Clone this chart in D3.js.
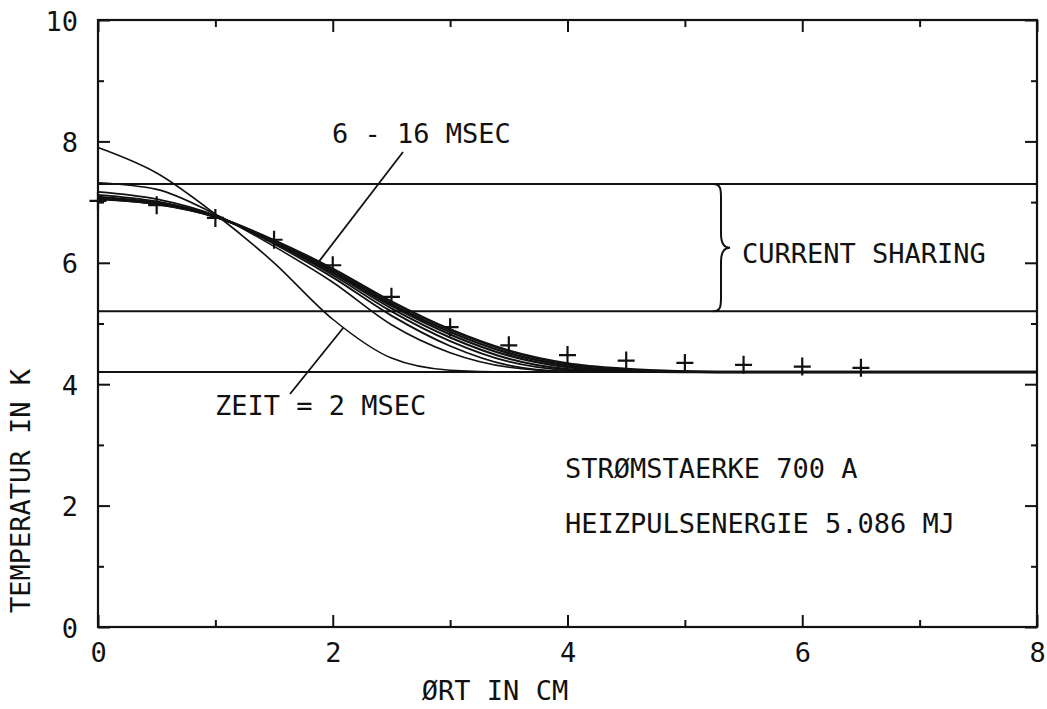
<!DOCTYPE html>
<html>
<head>
<meta charset="utf-8">
<script src="https://cdn.jsdelivr.net/npm/d3@7"></script>
<style>
  html, body { margin: 0; padding: 0; background: #fff; }
  svg { display: block; }
  text { font-family: "DejaVu Sans Mono", monospace; font-size: 27px; fill: #111; }
</style>
</head>
<body>
<svg id="chart" width="1047" height="709"></svg>
<script>
// Positions along the conductor (cm) at which the profiles are sampled
const xGrid = [0, 0.5, 1.0, 1.5, 2.0, 2.5, 3.0, 3.5, 4.0, 4.5, 5.0, 5.5, 6.0, 6.5, 7.0, 7.5, 8.0];

// Computed temperature profiles (K), one per time step (ms)
const profile2ms  = [7.90, 7.48, 6.80, 6.00, 5.07, 4.43, 4.23, 4.20, 4.20, 4.20, 4.20, 4.20, 4.20, 4.20, 4.20, 4.20, 4.20];
const profile4ms  = [7.32, 7.21, 6.80, 6.27, 5.68, 4.98, 4.52, 4.28, 4.21, 4.20, 4.20, 4.20, 4.20, 4.20, 4.20, 4.20, 4.20];
const profile6ms  = [7.17, 7.05, 6.78, 6.31, 5.76, 5.13, 4.63, 4.31, 4.21, 4.20, 4.20, 4.20, 4.20, 4.20, 4.20, 4.20, 4.20];
const profile8ms  = [7.12, 7.01, 6.77, 6.33, 5.80, 5.20, 4.71, 4.37, 4.23, 4.20, 4.20, 4.20, 4.20, 4.20, 4.20, 4.20, 4.20];
const profile10ms = [7.09, 6.99, 6.76, 6.34, 5.83, 5.25, 4.77, 4.42, 4.25, 4.21, 4.20, 4.20, 4.20, 4.20, 4.20, 4.20, 4.20];
const profile12ms = [7.07, 6.98, 6.76, 6.35, 5.85, 5.29, 4.82, 4.47, 4.28, 4.22, 4.20, 4.20, 4.20, 4.20, 4.20, 4.20, 4.20];
const profile14ms = [7.06, 6.97, 6.76, 6.36, 5.87, 5.32, 4.86, 4.51, 4.31, 4.23, 4.21, 4.20, 4.20, 4.20, 4.20, 4.20, 4.20];
const profile16ms = [7.05, 6.97, 6.76, 6.37, 5.90, 5.36, 4.90, 4.55, 4.34, 4.25, 4.21, 4.20, 4.20, 4.20, 4.20, 4.20, 4.20];

// Measured temperatures (crosses)
const measX = [0, 0.5, 1.0, 1.5, 2.0, 2.5, 3.0, 3.5, 4.0, 4.5, 5.0, 5.5, 6.0, 6.5];
const measT = [7.02, 6.95, 6.74, 6.38, 5.96, 5.44, 4.94, 4.64, 4.48, 4.39, 4.35, 4.32, 4.29, 4.27];

// Reference temperature levels (K): upper / lower limit of current sharing, bath temperature
const levels = [7.3, 5.2, 4.2];

// Axis ticks
const xMajor = [0, 2, 4, 6, 8];
const xMinor = [1, 3, 5, 7];
const yMajor = [0, 2, 4, 6, 8, 10];
const yMinor = [1, 3, 5, 7, 9];

const svg = d3.select("#chart");
const plotLeft = 98, plotRight = 1037, plotTop = 20, plotBottom = 627;

const x = d3.scaleLinear().domain([0, 8]).range([plotLeft, plotRight]);
const y = d3.scaleLinear().domain([0, 10]).range([plotBottom, plotTop]);

const ink = "#111";

// Frame
svg.append("rect")
  .attr("x", plotLeft).attr("y", plotTop)
  .attr("width", plotRight - plotLeft).attr("height", plotBottom - plotTop)
  .attr("fill", "none").attr("stroke", ink).attr("stroke-width", 2.2);

// Inward ticks on all four sides, majors longer than minors
function addAxis(axisFn, scale, values, size, transform, labelled) {
  const g = svg.append("g")
    .attr("transform", transform)
    .call(axisFn(scale).tickValues(values).tickSize(-size).tickFormat(labelled ? d3.format("d") : ""));
  g.select(".domain").remove();
  g.selectAll(".tick line").attr("stroke", ink).attr("stroke-width", 2);
  return g;
}

const gxb = addAxis(d3.axisBottom, x, xMajor, 12, `translate(0,${plotBottom})`, true);
addAxis(d3.axisBottom, x, xMinor, 7, `translate(0,${plotBottom})`, false);
addAxis(d3.axisTop, x, xMajor, 12, `translate(0,${plotTop})`, false);
addAxis(d3.axisTop, x, xMinor, 7, `translate(0,${plotTop})`, false);
const gyl = addAxis(d3.axisLeft, y, yMajor, 12, `translate(${plotLeft},0)`, true);
addAxis(d3.axisLeft, y, yMinor, 6, `translate(${plotLeft},0)`, false);
addAxis(d3.axisRight, y, yMajor, 12, `translate(${plotRight},0)`, false);
addAxis(d3.axisRight, y, yMinor, 6, `translate(${plotRight},0)`, false);

svg.selectAll("g.tick text").attr("fill", ink);
gxb.selectAll(".tick text")
  .attr("y", 35).attr("dy", 0)
  .attr("text-anchor", "middle")
  .style("font-family", '"DejaVu Sans Mono", monospace').style("font-size", "27px");
gyl.selectAll(".tick text")
  .attr("x", -20).attr("dy", 10)
  .attr("text-anchor", "end")
  .style("font-family", '"DejaVu Sans Mono", monospace').style("font-size", "27px");

// Horizontal reference levels
svg.append("g").selectAll("line").data(levels).join("line")
  .attr("x1", plotLeft).attr("x2", plotRight)
  .attr("y1", d => y(d)).attr("y2", d => y(d))
  .attr("stroke", ink).attr("stroke-width", 2);

// Temperature profiles
const line = d3.line()
  .x((d, i) => x(xGrid[i]))
  .y(d => y(d))
  .curve(d3.curveMonotoneX);

const profiles = [
  { values: profile2ms,  w: 1.6 },
  { values: profile4ms,  w: 1.6 },
  { values: profile6ms,  w: 1.8 },
  { values: profile8ms,  w: 1.8 },
  { values: profile10ms, w: 2.0 },
  { values: profile12ms, w: 2.2 },
  { values: profile14ms, w: 2.4 },
  { values: profile16ms, w: 2.6 }
];
svg.append("g").selectAll("path").data(profiles).join("path")
  .attr("d", d => line(d.values))
  .attr("fill", "none")
  .attr("stroke", ink)
  .attr("stroke-width", d => d.w);

// Measured points as crosses
svg.append("g").selectAll("path").data(measX).join("path")
  .attr("transform", (d, i) => `translate(${x(d)},${y(measT[i])})`)
  .attr("d", "M-8.5,0H8.5M0,-9V9")
  .attr("stroke", ink).attr("stroke-width", 2.2).attr("fill", "none");

// Leader lines for the time labels
svg.append("line")
  .attr("x1", 403).attr("y1", 152).attr("x2", x(1.87)).attr("y2", y(5.99))
  .attr("stroke", ink).attr("stroke-width", 1.8);
svg.append("line")
  .attr("x1", 290).attr("y1", 394).attr("x2", x(2.09)).attr("y2", y(4.93))
  .attr("stroke", ink).attr("stroke-width", 1.8);

// Brace marking the current-sharing band
const bx = 713, bTop = y(levels[0]), bBot = y(levels[1]), bMid = (bTop + bBot) / 2;
svg.append("path")
  .attr("d", `M${bx},${bTop} C${bx + 8},${bTop} ${bx + 8},${bTop + 6} ${bx + 8},${bTop + 14}
              L${bx + 8},${bMid - 14} C${bx + 8},${bMid - 4} ${bx + 12},${bMid} ${bx + 17},${bMid}
              C${bx + 12},${bMid} ${bx + 8},${bMid + 4} ${bx + 8},${bMid + 14}
              L${bx + 8},${bBot - 14} C${bx + 8},${bBot - 6} ${bx + 8},${bBot} ${bx},${bBot}`)
  .attr("fill", "none").attr("stroke", ink).attr("stroke-width", 2);

// Annotations
const notes = [
  { t: "6 - 16 MSEC", x: 332, y: 143 },
  { t: "ZEIT = 2 MSEC", x: 215, y: 415 },
  { t: "CURRENT SHARING", x: 742, y: 263 },
  { t: "STRØMSTAERKE 700 A", x: 565, y: 478 },
  { t: "HEIZPULSENERGIE 5.086 MJ", x: 565, y: 533 }
];
svg.append("g").selectAll("text").data(notes).join("text")
  .attr("x", d => d.x).attr("y", d => d.y).text(d => d.t);

// Axis titles
svg.append("text")
  .attr("x", 495).attr("y", 700).attr("text-anchor", "middle")
  .text("ØRT IN CM");
svg.append("text")
  .attr("transform", "translate(30,491) rotate(-90)")
  .attr("text-anchor", "middle")
  .text("TEMPERATUR IN K");
</script>
</body>
</html>
